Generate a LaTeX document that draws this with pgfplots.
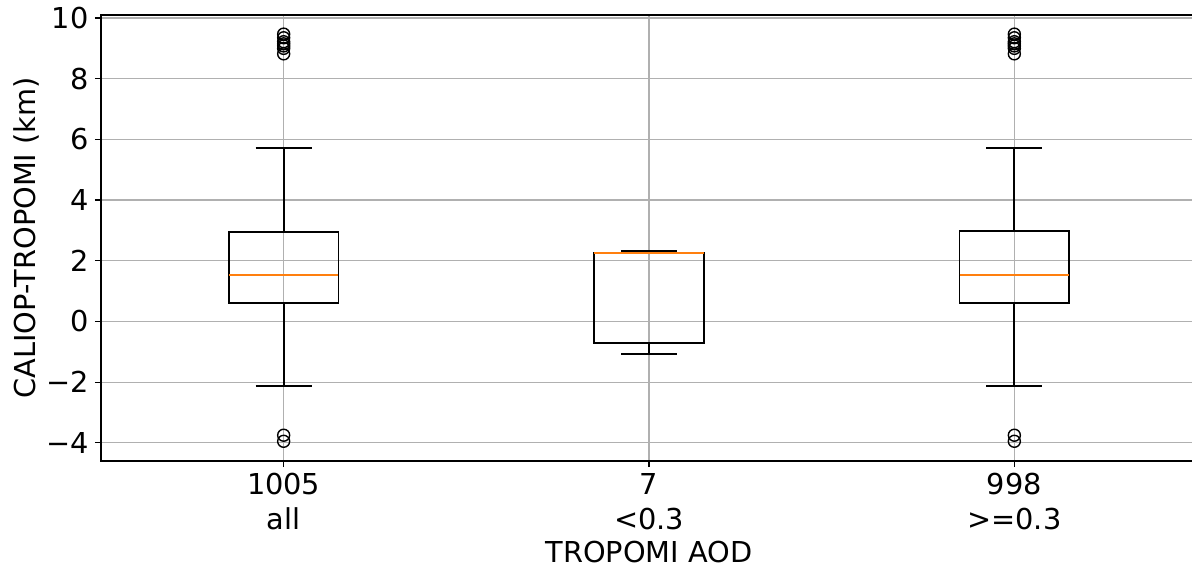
\documentclass[border=0pt]{standalone}
\usepackage{fontspec}
\setmainfont{DejaVu Sans}
\usepackage{pgfplots}
\pgfplotsset{compat=1.18}
\usepgfplotslibrary{statistics}
\definecolor{mplorange}{HTML}{FF7F0E}
\definecolor{gridgray}{HTML}{B0B0B0}
\begin{document}
\fontsize{14.4}{17.5}\selectfont
\begin{tikzpicture}
\useasboundingbox (-50.5pt,-54pt) rectangle (545.5pt,230.5pt);
\begin{axis}[
  scale only axis,
  width=548pt, height=223pt,
  xmin=0.5, xmax=3.5,
  ymin=-4.6, ymax=10.1,
  boxplot/draw direction=y,
  xtick pos=bottom, ytick pos=left,
  xtick={1,2,3},
  xticklabels={{1005\\all},{7\\<0.3},{998\\>=0.3}},
  xticklabel style={align=center, font=\fontsize{14.4}{17.5}\selectfont, inner sep=3pt},
  ytick={-4,-2,0,2,4,6,8,10},
  yticklabels={−4,−2,0,2,4,6,8,10},
  yticklabel style={font=\fontsize{14.4}{17.5}\selectfont, inner sep=3pt},
  xlabel={TROPOMI AOD},
  ylabel={CALIOP-TROPOMI (km)},
  label style={font=\fontsize{14.4}{17.5}\selectfont},
  xlabel style={yshift=2.5pt},
  ylabel style={at={(axis description cs:-0.0803,0.5)}, anchor=north, rotate=0, inner sep=0pt},
  grid=major,
  major grid style={gridgray, line width=0.6pt},
  tick align=outside,
  major tick length=3pt,
  tick style={black, line width=0.6pt},
  axis line style={black, line width=0.6pt},
  boxplot/every box/.style={draw=black, line width=0.9pt},
  boxplot/every whisker/.style={draw=black, line width=0.9pt},
  boxplot/every median/.style={draw=mplorange, line width=1pt},
]
\addplot[black, mark=o, mark size=3pt, mark options={line width=0.7pt},
  boxplot prepared={lower whisker=-2.14, lower quartile=0.61, median=1.52,
    upper quartile=2.95, upper whisker=5.72, draw position=1,
    box extend=0.3, whisker extend=0.153}]
  table[row sep=\\, y index=0]{9.47\\9.35\\9.22\\9.15\\9.08\\9.0\\8.82\\-3.75\\-3.95\\};
\addplot[black, mark=o, mark size=3pt, mark options={line width=0.7pt},
  boxplot prepared={lower whisker=-1.06, lower quartile=-0.70, median=2.27,
    upper quartile=2.27, upper whisker=2.32, draw position=2,
    box extend=0.3, whisker extend=0.153}]
  coordinates {};
\addplot[black, mark=o, mark size=3pt, mark options={line width=0.7pt},
  boxplot prepared={lower whisker=-2.14, lower quartile=0.61, median=1.52,
    upper quartile=2.99, upper whisker=5.72, draw position=3,
    box extend=0.3, whisker extend=0.153}]
  table[row sep=\\, y index=0]{9.47\\9.35\\9.22\\9.15\\9.08\\9.0\\8.82\\-3.75\\-3.95\\};
\end{axis}
\end{tikzpicture}
\end{document}
